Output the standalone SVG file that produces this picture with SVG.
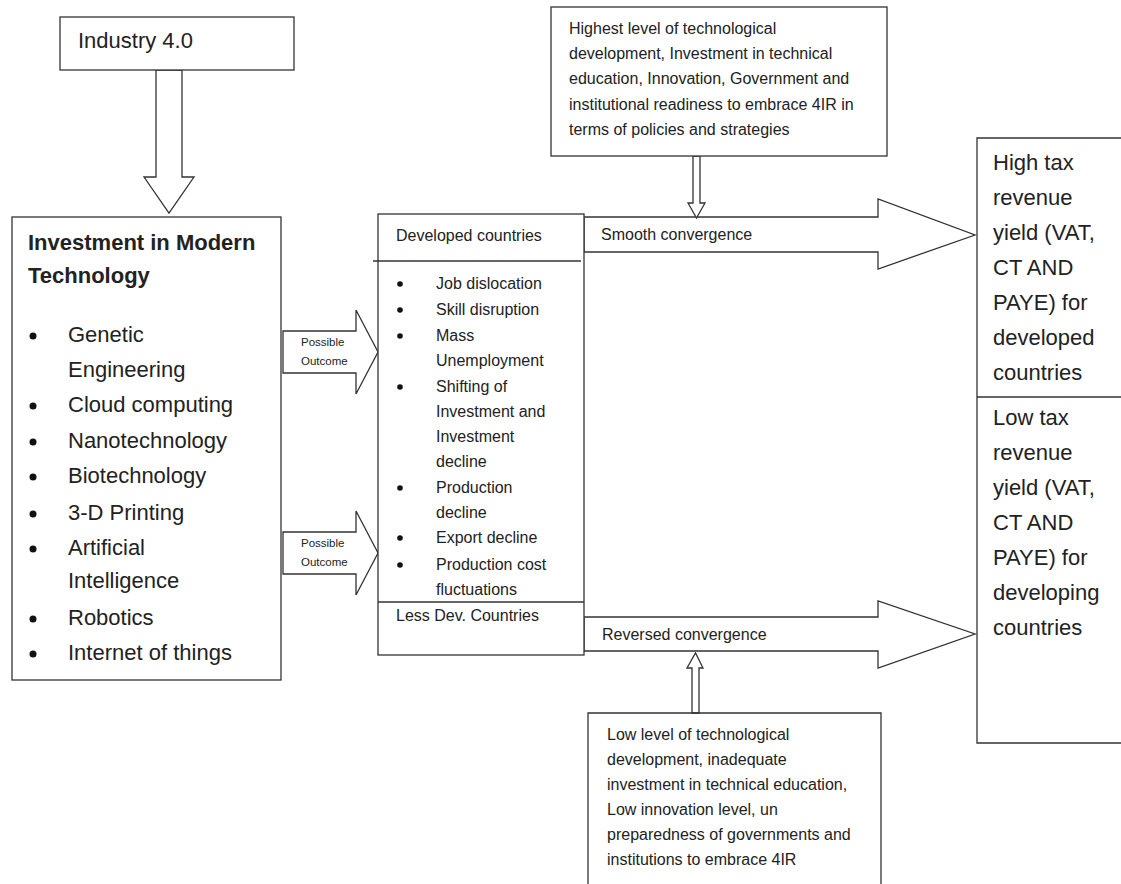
<svg xmlns="http://www.w3.org/2000/svg" width="1121" height="884" viewBox="0 0 1121 884">
<style>
.box{fill:#fff;stroke:#333;stroke-width:1.3}
.ln{fill:none;stroke:#333;stroke-width:1.3}
.arr{fill:#fff;stroke:#333;stroke-width:1.3;stroke-linejoin:miter}
text{font-family:"Liberation Sans",Arial,sans-serif;fill:#222}
.t22{font-size:22px}
.b22{font-size:22px;font-weight:bold}
.t16{font-size:16px}
.t11{font-size:11.5px}
.dot{fill:#111}
</style>
<rect width="1121" height="884" fill="#fff"/>
<g id="connectors">
<polygon class="arr" points="156,70 182,70 182,177 194,177 169,213 144,177 156,177"/>
<polygon class="arr" points="283,331 356,331 356,310 378,352 356,394 356,373 283,373"/>
<text class="t11" x="301" y="346">Possible</text>
<text class="t11" x="301" y="365">Outcome</text>
<polygon class="arr" points="283,532 356,532 356,511 378,553 356,595 356,574 283,574"/>
<text class="t11" x="301" y="547">Possible</text>
<text class="t11" x="301" y="566">Outcome</text>
<polygon class="arr" points="584,217 878,217 878,199 975,235 878,269 878,252 584,252"/>
<text class="t16" x="601" y="240">Smooth convergence</text>
<polygon class="arr" points="584,617 878,617 878,601 975,634 878,668 878,651 584,651"/>
<text class="t16" x="602" y="640">Reversed convergence</text>
<polygon class="arr" points="693,156 700,156 700,203 705,203 696.5,218 688,203 693,203"/>
<polygon class="arr" points="692,713 699,713 699,668 703,668 695.5,653 687,668 692,668"/>
</g>
<g id="industry">
<rect class="box" x="60" y="17" width="234" height="53"/>
<text class="t22" x="78" y="48">Industry 4.0</text>
</g>
<g id="investment">
<rect class="box" x="12" y="217" width="269" height="463"/>
<text class="b22" x="28" y="250">Investment in Modern</text>
<text class="b22" x="28" y="283">Technology</text>
<g class="dot">
<circle cx="33" cy="336" r="3.5"/>
<circle cx="33" cy="406" r="3.5"/>
<circle cx="33" cy="442" r="3.5"/>
<circle cx="33" cy="477" r="3.5"/>
<circle cx="33" cy="514" r="3.5"/>
<circle cx="33" cy="549" r="3.5"/>
<circle cx="33" cy="619" r="3.5"/>
<circle cx="33" cy="654" r="3.5"/>
</g>
<text class="t22" x="68" y="342">Genetic</text>
<text class="t22" x="68" y="377">Engineering</text>
<text class="t22" x="68" y="412">Cloud computing</text>
<text class="t22" x="68" y="448">Nanotechnology</text>
<text class="t22" x="68" y="483">Biotechnology</text>
<text class="t22" x="68" y="520">3-D Printing</text>
<text class="t22" x="68" y="555">Artificial</text>
<text class="t22" x="68" y="588">Intelligence</text>
<text class="t22" x="68" y="625">Robotics</text>
<text class="t22" x="68" y="660">Internet of things</text>
</g>
<g id="countries">
<rect class="box" x="378" y="214" width="206" height="441"/>
<line class="ln" x1="373" y1="261" x2="581" y2="261"/>
<line class="ln" x1="378" y1="602" x2="584" y2="602"/>
<text class="t16" x="396" y="241">Developed countries</text>
<g class="dot">
<circle cx="400" cy="284" r="2.8"/>
<circle cx="400" cy="310" r="2.8"/>
<circle cx="400" cy="336" r="2.8"/>
<circle cx="400" cy="387" r="2.8"/>
<circle cx="400" cy="488" r="2.8"/>
<circle cx="400" cy="538" r="2.8"/>
<circle cx="400" cy="565" r="2.8"/>
</g>
<text class="t16" x="436" y="289">Job dislocation</text>
<text class="t16" x="436" y="315">Skill disruption</text>
<text class="t16" x="436" y="341">Mass</text>
<text class="t16" x="436" y="366">Unemployment</text>
<text class="t16" x="436" y="392">Shifting of</text>
<text class="t16" x="436" y="417">Investment and</text>
<text class="t16" x="436" y="442">Investment</text>
<text class="t16" x="436" y="467">decline</text>
<text class="t16" x="436" y="493">Production</text>
<text class="t16" x="436" y="518">decline</text>
<text class="t16" x="436" y="543">Export decline</text>
<text class="t16" x="436" y="570">Production cost</text>
<text class="t16" x="436" y="595">fluctuations</text>
<text class="t16" x="396" y="621">Less Dev. Countries</text>
</g>
<g id="highest">
<rect class="box" x="551" y="7" width="336" height="149"/>
<text class="t16" x="569" y="34">Highest level of technological</text>
<text class="t16" x="569" y="59">development, Investment in technical</text>
<text class="t16" x="569" y="84">education, Innovation, Government and</text>
<text class="t16" x="569" y="110">institutional readiness to embrace 4IR in</text>
<text class="t16" x="569" y="135">terms of policies and strategies</text>
</g>
<g id="low">
<path class="ln" d="M588,884 V713 H881 V884"/>
<text class="t16" x="607" y="740">Low level of technological</text>
<text class="t16" x="607" y="765">development, inadequate</text>
<text class="t16" x="607" y="790">investment in technical education,</text>
<text class="t16" x="607" y="815">Low innovation level, un</text>
<text class="t16" x="607" y="840">preparedness of governments and</text>
<text class="t16" x="607" y="865">institutions to embrace 4IR</text>
</g>
<g id="tax">
<path class="ln" d="M1122,138 H977 V743 H1122"/>
<line class="ln" x1="977" y1="397" x2="1122" y2="397"/>
<text class="t22" x="993" y="170">High tax</text>
<text class="t22" x="993" y="205">revenue</text>
<text class="t22" x="993" y="240">yield (VAT,</text>
<text class="t22" x="993" y="275">CT AND</text>
<text class="t22" x="993" y="310">PAYE) for</text>
<text class="t22" x="993" y="345">developed</text>
<text class="t22" x="993" y="380">countries</text>
<text class="t22" x="993" y="425">Low tax</text>
<text class="t22" x="993" y="460">revenue</text>
<text class="t22" x="993" y="495">yield (VAT,</text>
<text class="t22" x="993" y="530">CT AND</text>
<text class="t22" x="993" y="565">PAYE) for</text>
<text class="t22" x="993" y="600">developing</text>
<text class="t22" x="993" y="635">countries</text>
</g>
</svg>
